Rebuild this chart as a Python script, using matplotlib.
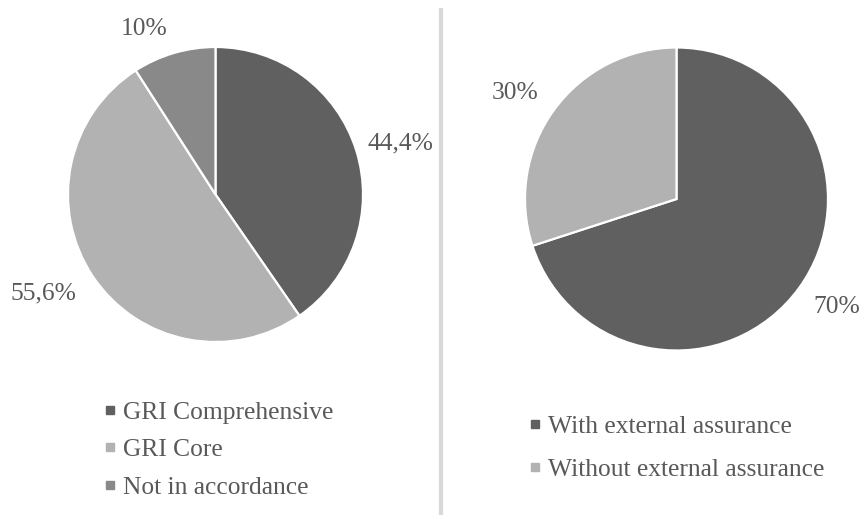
import matplotlib.pyplot as plt
from matplotlib.lines import Line2D

# dane - raportowanie GRI i weryfikacja zewnetrzna
gri_labels = ['GRI Comprehensive', 'GRI Core', 'Not in accordance']
gri_values = [44.4, 55.6, 10]
gri_text = ['44,4%', '55,6%', '10%']
gri_colors = ['#606060', '#b2b2b2', '#898989']

ass_labels = ['With external assurance', 'Without external assurance']
ass_values = [70, 30]
ass_text = ['70%', '30%']
ass_colors = ['#606060', '#b2b2b2']

plt.rcParams['font.family'] = ['Liberation Serif', 'DejaVu Serif']
txt_color = '#595959'
fs = 18.4

# polozenie etykiet procentowych (x, y w pikselach ukladu)
gri_pos = [(400, 372), (43, 222), (144, 486)]
ass_pos = [(837, 208), (515, 422)]

fig = plt.figure(figsize=(8.64, 5.15), dpi=100)
ax = fig.add_axes([0, 0, 1, 1])

# wykres lewy
w1, t1 = ax.pie(gri_values, labels=gri_text, colors=gri_colors,
                startangle=90, counterclock=False, center=(215.5, 320.5),
                radius=147.5,
                wedgeprops=dict(edgecolor='white', linewidth=1.6),
                textprops=dict(color=txt_color, fontsize=fs))
# wykres prawy
w2, t2 = ax.pie(ass_values, labels=ass_text, colors=ass_colors,
                startangle=90, counterclock=False, center=(676.5, 316),
                radius=151.5,
                wedgeprops=dict(edgecolor='white', linewidth=1.6),
                textprops=dict(color=txt_color, fontsize=fs))
for t, p in zip(list(t1) + list(t2), gri_pos + ass_pos):
    t.set_position(p)
    t.set_ha('center')
    t.set_va('center')

ax.set_xlim(0, 864)
ax.set_ylim(0, 515)
ax.set_aspect('equal')
ax.axis('off')

# linia rozdzielajaca
ax.vlines(441.3, 0, 507, color='#d9d9d9', linewidth=3)

def handles(colors):
    return [Line2D([], [], marker='s', linestyle='none', markersize=6.3,
                   markerfacecolor=c, markeredgecolor=c) for c in colors]

leg1 = ax.legend(handles(gri_colors), gri_labels, loc='upper left',
                 bbox_to_anchor=(105, 114), bbox_transform=ax.transData,
                 frameon=False, fontsize=fs, labelcolor=txt_color,
                 handlelength=0.4, handletextpad=0.3, labelspacing=0.57,
                 borderpad=0, borderaxespad=0)
ax.add_artist(leg1)
ax.legend(handles(ass_colors), ass_labels, loc='upper left',
          bbox_to_anchor=(530, 100), bbox_transform=ax.transData,
          frameon=False, fontsize=fs, labelcolor=txt_color,
          handlelength=0.4, handletextpad=0.3, labelspacing=0.78,
          borderpad=0, borderaxespad=0)

plt.savefig('out.png', dpi=100)
